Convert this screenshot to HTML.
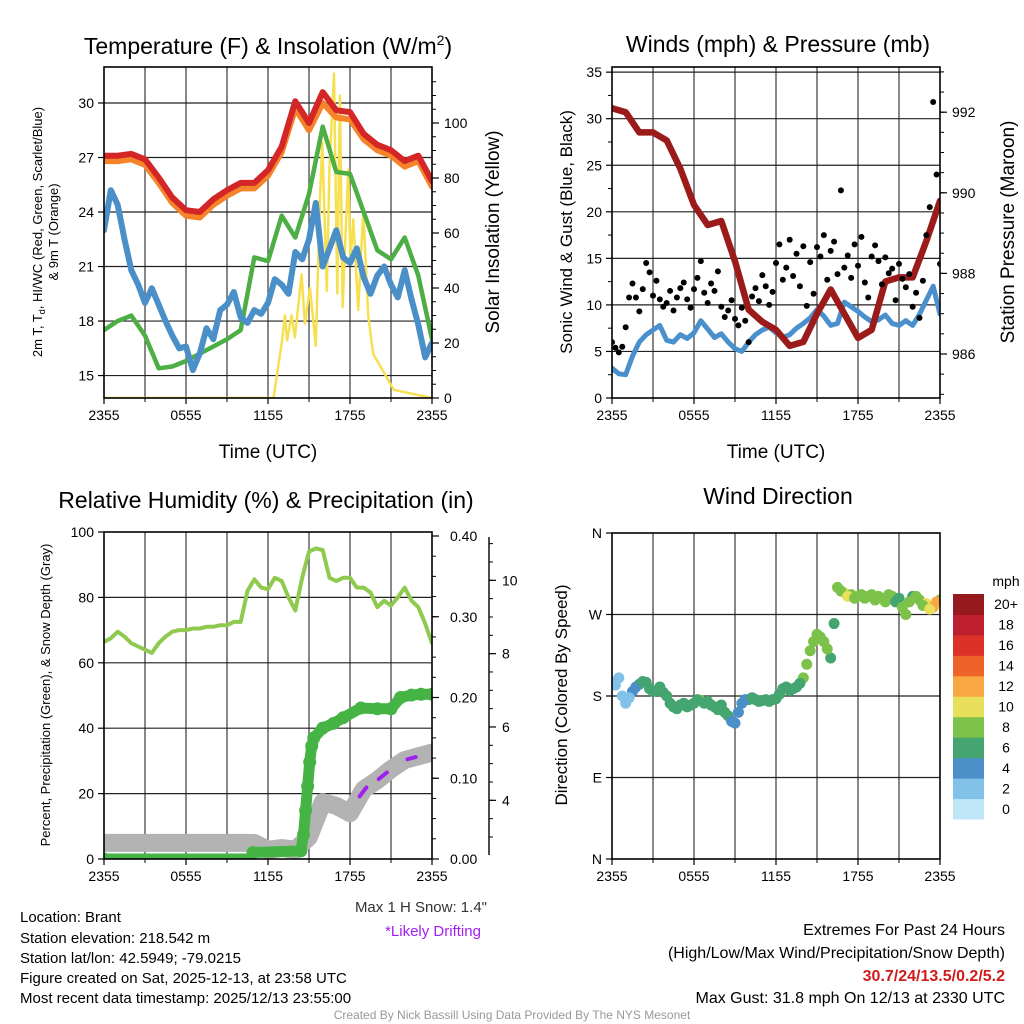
<!DOCTYPE html>
<html><head><meta charset="utf-8"><style>
html,body{margin:0;padding:0;background:#fff;}
svg{display:block;font-family:"Liberation Sans",Arial,sans-serif;}
</style></head><body>
<svg id="chart" width="1024" height="1024" viewBox="0 0 1024 1024">
<defs>
<clipPath id="c1"><rect x="104" y="67" width="328" height="331"/></clipPath>
<clipPath id="c2"><rect x="612" y="67" width="328" height="331"/></clipPath>
<clipPath id="c3"><rect x="104" y="532" width="328" height="327"/></clipPath>
<clipPath id="c4"><rect x="612" y="533" width="328" height="326"/></clipPath>
</defs>
<text x="268" y="54" font-size="23" text-anchor="middle">Temperature (F) &amp; Insolation (W/m<tspan font-size="14" dy="-9">2</tspan><tspan dy="9">)</tspan></text>
<text x="778" y="52" font-size="23" text-anchor="middle">Winds (mph) &amp; Pressure (mb)</text>
<text x="266" y="508" font-size="23" text-anchor="middle">Relative Humidity (%) &amp; Precipitation (in)</text>
<text x="778" y="504" font-size="23" text-anchor="middle">Wind Direction</text>

<text x="268" y="458" font-size="19" text-anchor="middle">Time (UTC)</text>
<text x="776" y="458" font-size="19" text-anchor="middle">Time (UTC)</text>

<text transform="translate(42,232) rotate(-90)" font-size="13" text-anchor="middle">2m T, T<tspan font-size="9" dy="3">d</tspan><tspan dy="-3">, HI/WC (Red, Green, Scarlet/Blue)</tspan></text>
<text transform="translate(58,232) rotate(-90)" font-size="13" text-anchor="middle">&amp; 9m T (Orange)</text>
<text transform="translate(499,232) rotate(-90)" font-size="19" text-anchor="middle">Solar Insolation (Yellow)</text>
<text transform="translate(572,232) rotate(-90)" font-size="17" text-anchor="middle">Sonic Wind &amp; Gust (Blue, Black)</text>
<text transform="translate(1014,232) rotate(-90)" font-size="19" text-anchor="middle">Station Pressure (Maroon)</text>
<text transform="translate(50,695) rotate(-90)" font-size="13" text-anchor="middle">Percent, Precipitation (Green), &amp; Snow Depth (Gray)</text>
<text transform="translate(567,695) rotate(-90)" font-size="17" text-anchor="middle">Direction (Colored By Speed)</text>

<g font-size="15">
<text x="20" y="922">Location: Brant</text>
<text x="20" y="943">Station elevation: 218.542 m</text>
<text x="20" y="963">Station lat/lon: 42.5949; -79.0215</text>
<text x="20" y="983">Figure created on Sat, 2025-12-13, at 23:58 UTC</text>
<text x="20" y="1003">Most recent data timestamp: 2025/12/13 23:55:00</text>
</g>
<text x="487" y="912" font-size="15" text-anchor="end" fill="#333">Max 1 H Snow: 1.4"</text>
<text x="433" y="936" font-size="15" text-anchor="middle" fill="#a020f0">*Likely Drifting</text>
<g font-size="16" text-anchor="end">
<text x="1005" y="935">Extremes For Past 24 Hours</text>
<text x="1005" y="958">(High/Low/Max Wind/Precipitation/Snow Depth)</text>
<text x="1005" y="981" fill="#d01c1c" font-weight="bold">30.7/24/13.5/0.2/5.2</text>
<text x="1005" y="1003">Max Gust: 31.8 mph On 12/13 at 2330 UTC</text>
</g>
<text x="512" y="1019" font-size="12" text-anchor="middle" fill="#999">Created By Nick Bassill Using Data Provided By The NYS Mesonet</text>
<g id="layer"></g>
</svg>
<script>
// ---------- data ----------
const xTickLabels = ["2355","0555","1155","1755","2355"];
const tempRed = [27.1,27.1,27.2,26.9,25.9,24.8,24.1,24.0,24.7,25.2,25.6,25.6,26.3,27.6,30.1,28.9,30.6,29.6,29.5,28.3,27.7,27.4,26.8,27.1,25.7];
const temp9m = [26.8,26.8,26.9,26.6,25.6,24.5,23.8,23.7,24.4,24.9,25.3,25.3,26.0,27.3,29.7,28.5,30.0,29.2,29.1,28.0,27.4,27.1,26.5,26.8,25.4];
const tempGreen = [17.5,18.0,18.3,17.2,15.4,15.5,15.8,16.2,16.6,17.0,17.5,21.5,21.3,23.8,22.6,25.0,28.7,26.2,26.1,24.0,21.9,21.4,22.6,20.5,17.0];
const tempBlue = [23.0,25.2,24.4,22.5,20.8,20.0,19.0,19.8,18.9,18.0,17.2,16.5,16.6,15.3,16.2,17.6,17.0,18.6,18.9,19.6,18.2,17.9,18.6,18.4,19.0,20.3,20.0,19.5,21.8,21.4,22.5,24.5,21.0,22.0,23.0,21.5,21.2,22.0,20.4,19.5,20.5,21.0,20.0,19.3,20.8,19.2,17.8,16.0,16.8];
const solarTimes = [0,12.4,13.0,13.24,13.4,13.73,13.97,14.46,14.7,15.07,15.5,15.8,15.97,16.3,16.5,16.83,17.07,17.26,17.46,17.87,18.04,18.24,18.6,18.97,19.33,19.7,20.4,21.2,24];
const solarValues = [0,0,20,30,21,30,22,45,27,40,19,72,93,39,84,118,38,110,33,83,50,65,32,68,30,16,10,3,0];
const tempTicks = [15,18,21,24,27,30];
const solarTicks = [0,20,40,60,80,100];

const windSpeed = [3.2,2.6,2.5,4.5,6.0,6.8,7.3,7.8,6.2,6.0,6.8,6.4,7.0,8.3,7.4,6.5,6.9,6.0,5.3,5.0,6.0,6.8,7.3,7.6,7.0,6.5,6.8,7.5,8.0,8.6,9.5,8.8,7.8,8.0,10.3,9.8,9.3,8.7,8.2,8.4,8.9,8.0,7.8,8.3,7.8,9.0,10.5,12.0,9.0];
const windGust = [6.0,5.4,4.9,5.5,7.6,10.8,12.3,10.8,9.3,11.7,14.5,13.5,11.0,12.6,10.6,9.8,10.2,11.5,9.4,10.8,11.8,12.4,10.6,9.7,11.7,12.9,14.7,11.3,10.2,12.3,11.5,13.6,9.8,8.7,9.4,10.5,8.5,7.8,9.7,8.3,6.0,10.9,11.8,10.4,13.2,12.0,10.0,11.4,14.5,16.5,12.7,14.0,17.0,13.1,15.5,12.0,16.3,9.9,14.6,11.2,16.2,15.2,17.5,12.7,15.8,16.8,13.3,22.3,14.0,15.3,12.9,16.5,14.2,17.3,12.4,10.8,15.2,16.4,14.7,12.2,15.1,13.4,13.9,10.5,14.4,12.8,11.9,13.3,9.8,11.3,8.6,12.6,17.5,20.5,31.8,24.0,14.4];
const pressure = [992.1,992.0,991.5,991.5,991.3,990.6,989.7,989.2,989.3,988.3,987.1,986.8,986.6,986.2,986.3,987.0,987.6,987.0,986.4,986.6,987.8,987.9,987.9,988.8,989.8];
const windTicks = [0,5,10,15,20,25,30,35];
const pressTicks = [986,988,990,992];

const rhValues = [66.4,67.5,69.5,68,66,65,64,63,66,68,69.5,70,70,70.5,70.5,71,71,71.5,71.5,72.5,72.5,82,85.5,83,82.5,86,85,80,76,86,94,95,94.5,86,85,86,86,83,83,81.5,77,79,77.5,80,83,79,77,72,66];
const precipTimes = [0,10.7,10.9,14.4,14.6,14.75,14.9,15.05,15.2,15.35,16,16.8,17.5,18.8,20,21,21.7,22.5,23.2,24];
const precipValues = [0,0,0.008,0.01,0.03,0.06,0.09,0.12,0.14,0.15,0.162,0.168,0.175,0.187,0.186,0.186,0.2,0.203,0.204,0.204];
const snowDepth = [2.84,2.84,2.84,2.84,2.84,2.84,2.84,2.84,2.84,2.84,2.84,2.84,2.65,2.7,2.65,3.0,3.95,3.85,3.65,4.3,4.55,4.85,5.1,5.2,5.3];
const driftStart = [18.7,20.1,22.2];
const driftEnd = [19.2,20.7,22.8];
const rhTicks = [0,20,40,60,80,100];
const precipTicks = [0,0.1,0.2,0.3,0.4];
const precipTickLabels = ["0.00","0.10","0.20","0.30","0.40"];
const snowTicks = [4,6,8,10];

const windDir = [195,200,172,185,193,195,185,190,180,168,170,168,172,175,174,168,170,158,150,172,176,176,175,174,177,188,186,190,200,230,248,240,222,300,294,292,290,288,292,290,284,290,288,270,290,286,282,278,286];
const windDirB = [192,180,178,190,196,188,186,184,172,166,172,170,176,172,170,165,162,152,162,176,178,174,176,176,182,190,188,194,215,240,245,232,260,296,290,288,292,290,286,288,292,284,278,284,290,280,276,284];
const speedB = [2.8,2.4,3.5,5.5,6.5,7.0,7.5,7.0,6.1,6.4,6.6,6.7,7.6,7.8,7.0,6.7,6.4,5.6,5.1,5.5,6.4,7.0,7.4,7.3,6.8,6.6,7.1,7.8,8.3,9.0,9.1,8.3,7.9,9.2,10.0,9.5,9.0,8.5,8.3,8.6,8.4,7.9,8.0,8.0,8.4,9.8,11.2,13.5];
const dirTicks = [0,90,180,270,360];
const dirLabels = ["N","E","S","W","N"];
const speedBins = ["0","2","4","6","8","10","12","14","16","18","20+"];
const speedColors = ["#bfe6f7","#82c1e8","#4a8fc8","#45a570","#7cc24a","#e8e05a","#f7a843","#ef6329","#dc3127","#be1e2d","#961a1d"];

// ---------- helpers ----------
const NS = "http://www.w3.org/2000/svg";
const layer = document.getElementById("layer");
function mk(tag, attrs, parent) {
  const e = document.createElementNS(NS, tag);
  for (const k in attrs) e.setAttribute(k, attrs[k]);
  (parent || layer).appendChild(e);
  return e;
}
const pxPerHr = 328 / 24;
function xL(t) { return 104 + t * pxPerHr; }
function xR(t) { return 612 + t * pxPerHr; }
function yTemp(v) { return 103 + (30 - v) * 18.17; }
function ySolar(v) { return 398 - v * 2.75; }
function yWind(v) { return 398 - v * 9.31; }
function yPress(p) { return 354 - (p - 986) * 40.3; }
function yRH(v) { return 859 - v * 3.27; }
function yPrecip(v) { return 859 - v * 807.5; }
function ySnow(v) { return 947 - v * 36.67; }
function yDir(d) { return 859 - d * (326 / 360); }
function pts(times, vals, fx, fy) { return vals.map((v, i) => fx(times[i]).toFixed(1) + "," + fy(v).toFixed(1)).join(" "); }
function seq(n, step) { return Array.from({length: n}, (_, i) => i * step); }

function frame(x0, y0, x1, y1, fx, hTicks, fy, name) {
  const g = mk("g", {});
  
  
  for (let h = 3; h < 24; h += 3) {
    mk("line", {x1: fx(h), x2: fx(h), y1: y0, y2: y1, stroke: "#555", "stroke-width": 1.4}, g);
  }
  hTicks.forEach(v => {
    const y = fy(v);
    if (y > y0 + 1 && y < y1 - 1) mk("line", {x1: x0, x2: x1, y1: y, y2: y, stroke: "#222", "stroke-width": 1.2}, g);
  });
  xTickLabels.forEach((lab, i) => {
    const x = fx(i * 6);
    mk("line", {x1: x, x2: x, y1: y1, y2: y1 + 6, stroke: "#000", "stroke-width": 1.2}, g);
    const t = mk("text", {x: x, y: y1 + 22, "font-size": 14, "text-anchor": "middle"}, g);
    t.textContent = lab;
    
    
  });
  for (let h = 3; h < 24; h += 6) mk("line", {x1: fx(h), x2: fx(h), y1: y1, y2: y1 + 4, stroke: "#000"}, g);
  return g;
}
function box(x0, y0, x1, y1, name) {
  const r = mk("rect", {x: x0, y: y0, width: x1 - x0, height: y1 - y0, fill: "none", stroke: "#000", "stroke-width": 1.6});
  
  
}
function leftTicks(x0, vals, labels, fy, name) {
  vals.forEach((v, i) => {
    const y = fy(v);
    mk("line", {x1: x0 - 6, x2: x0, y1: y, y2: y, stroke: "#000", "stroke-width": 1.2});
    const t = mk("text", {x: x0 - 10, y: y + 5, "font-size": 14, "text-anchor": "end"});
    t.textContent = labels[i];
    
    
  });
}
function rightTicks(x1, vals, labels, fy, minorVals, name, off) {
  minorVals.forEach(v => mk("line", {x1: x1, x2: x1 + 4, y1: fy(v), y2: fy(v), stroke: "#000", "stroke-width": 1}));
  vals.forEach((v, i) => {
    const y = fy(v);
    mk("line", {x1: x1, x2: x1 + 7, y1: y, y2: y, stroke: "#000", "stroke-width": 1.2});
    const t = mk("text", {x: x1 + (off || 12), y: y + 5, "font-size": 14, "text-anchor": "start"});
    t.textContent = labels[i];
    
    
  });
}

// ---------- panel 1 ----------
frame(104, 67, 432, 398, xL, tempTicks, yTemp, "temperature");
const g1 = mk("g", {"clip-path": "url(#c1)", fill: "none", "stroke-linejoin": "round", "stroke-linecap": "round"});
const hours = seq(25, 1), half = seq(49, 0.5);
let e;
e = mk("polyline", {points: pts(solarTimes, solarValues, xL, ySolar), stroke: "#f7e04f", "stroke-width": 2.5}, g1);
 
e = mk("polyline", {points: pts(hours, tempGreen, xL, yTemp), stroke: "#4cae44", "stroke-width": 4.5}, g1);
 
e = mk("polyline", {points: pts(half, tempBlue, xL, yTemp), stroke: "#4a8fc8", "stroke-width": 6}, g1);
 
e = mk("polyline", {points: pts(hours, temp9m, xL, yTemp), stroke: "#f5832a", "stroke-width": 6}, g1);
 
e = mk("polyline", {points: pts(hours, tempRed, xL, yTemp), stroke: "#d42626", "stroke-width": 6}, g1);
 
box(104, 67, 432, 398, "temperature");
leftTicks(104, tempTicks, tempTicks.map(String), yTemp, "temp-y");
rightTicks(432, solarTicks, solarTicks.map(String), ySolar, seq(24, 5), "solar-y");

// ---------- panel 2 ----------
frame(612, 67, 940, 398, xR, windTicks, yWind, "winds");
const g2 = mk("g", {"clip-path": "url(#c2)", fill: "none", "stroke-linejoin": "round", "stroke-linecap": "round"});
e = mk("polyline", {points: pts(half, windSpeed, xR, yWind), stroke: "#4a90cc", "stroke-width": 5}, g2);
 
e = mk("polyline", {points: pts(hours, pressure, xR, yPress), stroke: "#9b1b1b", "stroke-width": 6.5}, g2);
 
windGust.forEach((v, i) => {
  const c = mk("circle", {cx: xR(i * 0.25), cy: yWind(v), r: 3, fill: "#000"}, g2);
  
  
});
box(612, 67, 940, 398, "winds");
leftTicks(612, windTicks, windTicks.map(String), yWind, "wind-y");
for (let v = 2.5; v < 36; v += 5) mk("line", {x1: 608, x2: 612, y1: yWind(v), y2: yWind(v), stroke: "#000"});
rightTicks(940, pressTicks, pressTicks.map(String), yPress, seq(17, 0.5).map(v => 985 + v), "pressure-y");

// ---------- panel 3 ----------
frame(104, 532, 432, 859, xL, rhTicks, yRH, "humidity");
const g3 = mk("g", {"clip-path": "url(#c3)", fill: "none", "stroke-linejoin": "round", "stroke-linecap": "round"});
e = mk("polyline", {points: pts(hours, snowDepth, xL, ySnow), stroke: "#b3b3b3", "stroke-width": 18}, g3);
 
driftStart.forEach((s, i) => {
  const f = t => snowDepth[Math.floor(t)] + (snowDepth[Math.min(24, Math.floor(t) + 1)] - snowDepth[Math.floor(t)]) * (t - Math.floor(t));
  const d = mk("line", {x1: xL(s), y1: ySnow(f(s)), x2: xL(driftEnd[i]), y2: ySnow(f(driftEnd[i])), stroke: "#a020f0", "stroke-width": 4}, g3);
  
  
});
e = mk("polyline", {points: pts(precipTimes, precipValues, xL, yPrecip), stroke: "#45b445", "stroke-width": 11}, g3);
 
precipValues.forEach((v, i) => {
  const c = mk("circle", {cx: xL(precipTimes[i]), cy: yPrecip(v), r: 6.5, fill: "#45b445"}, g3);
  
  
});
e = mk("polyline", {points: pts(half, rhValues, xL, yRH), stroke: "#8fca4f", "stroke-width": 4}, g3);
 
box(104, 532, 432, 859, "humidity");
leftTicks(104, rhTicks, rhTicks.map(String), yRH, "rh-y");
rightTicks(432, precipTicks, precipTickLabels, yPrecip, seq(17, 0.025), "precip-y", 18);
mk("line", {x1: 489, x2: 489, y1: 537, y2: 855, stroke: "#000", "stroke-width": 1.4});
for (let v = 2.5; v <= 11; v += 0.5) { const y = ySnow(v); if (y >= 537 && y <= 855) mk("line", {x1: 489, x2: 493, y1: y, y2: y, stroke: "#000"}); }
snowTicks.forEach(v => {
  mk("line", {x1: 489, x2: 496, y1: ySnow(v), y2: ySnow(v), stroke: "#000", "stroke-width": 1.2});
  const t = mk("text", {x: 502, y: ySnow(v) + 5, "font-size": 14});
  t.textContent = String(v);
  
  
});

// ---------- panel 4 ----------
frame(612, 533, 940, 859, xR, dirTicks, yDir, "direction");
const g4 = mk("g", {"clip-path": "url(#c4)"});
windDir.forEach((d, i) => {
  const bin = Math.min(10, Math.floor(windSpeed[i] / 2));
  const c = mk("circle", {cx: xR(i * 0.5), cy: yDir(d), r: 5.5, fill: speedColors[bin]}, g4);
  
  
});
windDirB.forEach((d, i) => {
  const bin = Math.min(10, Math.floor(speedB[i] / 2));
  const c = mk("circle", {cx: xR(i * 0.5 + 0.25), cy: yDir(d), r: 5.5, fill: speedColors[bin]}, g4);
  
  
});
box(612, 533, 940, 859, "direction");
leftTicks(612, dirTicks, dirLabels, yDir, "direction-y");
const cbH = 225 / speedBins.length;
speedColors.forEach((col, i) => {
  const y = 594 + (speedBins.length - 1 - i) * cbH;
  const r = mk("rect", {x: 953, y: y, width: 31, height: cbH + 0.5, fill: col});
  
  
  const t = mk("text", {x: 1006, y: y + cbH / 2 + 5, "font-size": 14, "text-anchor": "middle"});
  t.textContent = speedBins[i];
  
  
});
const mph = mk("text", {x: 1006, y: 586, "font-size": 14, "text-anchor": "middle"});
mph.textContent = "mph";


</script>
</body></html>
